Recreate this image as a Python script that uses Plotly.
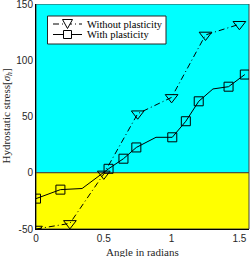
import plotly.graph_objects as go

# ---- data ----
angle_without = [0, 0.25, 0.5, 0.75, 1.0, 1.25, 1.5]
stress_without = [-50, -45, -1, 52.5, 67, 122.5, 132]

angle_with = [0, 0.18, 0.34, 0.535, 0.645, 0.74, 0.885, 1.005, 1.105, 1.2, 1.305, 1.42, 1.54]
stress_with = [-23, -15, -14, 3.5, 12.5, 22.5, 31.5, 31.5, 45.8, 63.5, 74.5, 76.5, 87.3]
# points of the "with plasticity" curve that carry a marker
marked_with = [True, True, False, True, True, True, False, True, True, True, False, True, True]

y_ticks = [-50, 0, 50, 100, 150]
y_ticklabels = ["-50", "0", "50", "100", "150"]
x_ticks = [0, 0.5, 1, 1.5]
x_ticklabels = ["0", "0.5", "1", "1.5"]

legend_names = ["Without plasticity", "With plasticity"]

SERIF = "Liberation Serif"
SANS = "Liberation Sans"

# plot-area geometry in pixels (for converting legend layout to paper coords)
W, H = 251, 257
ML, MR, MT, MB = 36, 2, 4, 28
PW, PH = W - ML - MR, H - MT - MB


def px(xp):
    return (xp - ML) / PW


def py(yp):
    return (H - MB - yp) / PH


fig = go.Figure()

dash_dot = "6px,3px,1px,3px"

# Without plasticity
fig.add_trace(go.Scatter(
    x=angle_without, y=stress_without, mode="lines+markers",
    name=legend_names[0], showlegend=False,
    line=dict(color="black", width=1, dash=dash_dot),
    marker=dict(symbol="triangle-down-open", size=11, color="black",
                line=dict(color="black", width=1)),
))

# With plasticity: line through all points
fig.add_trace(go.Scatter(
    x=angle_with, y=stress_with, mode="lines", name=legend_names[1],
    line=dict(color="black", width=1), showlegend=False, hoverinfo="skip",
))
# markers only on marked points
mx = [a for a, m in zip(angle_with, marked_with) if m]
my = [s for s, m in zip(stress_with, marked_with) if m]
fig.add_trace(go.Scatter(
    x=mx, y=my, mode="markers", showlegend=False, name=legend_names[1],
    marker=dict(symbol="square-open", size=9, color="black",
                line=dict(color="black", width=1)),
))

# background bands
fig.add_shape(type="rect", xref="x domain", yref="y", x0=0, x1=1, y0=0, y1=150,
              fillcolor="#00FFFF", line=dict(color="#404040", width=1), layer="below")
fig.add_shape(type="rect", xref="x domain", yref="y", x0=0, x1=1, y0=-50, y1=0,
              fillcolor="#FFFF00", line=dict(color="#404040", width=1), layer="below")

# ---- compact legend (MATLAB style) ----
fig.add_shape(type="rect", xref="paper", yref="paper",
              x0=px(47.5), x1=px(166), y0=py(44), y1=py(16),
              fillcolor="white", line=dict(color="#262626", width=1))
rows = [24, 34.5]
for i, (yy, name) in enumerate(zip(rows, legend_names)):
    fig.add_shape(type="line", xref="paper", yref="paper",
                  x0=px(53), x1=px(82), y0=py(yy), y1=py(yy),
                  line=dict(color="black", width=1,
                            dash=dash_dot if i == 0 else "solid"))
    cx = 67.5
    if i == 0:
        path = (f"M{px(cx-5)},{py(yy-4.5)} L{px(cx+5)},{py(yy-4.5)} "
                f"L{px(cx)},{py(yy+4.5)} Z")
    else:
        path = (f"M{px(cx-4)},{py(yy-4)} L{px(cx+4)},{py(yy-4)} "
                f"L{px(cx+4)},{py(yy+4)} L{px(cx-4)},{py(yy+4)} Z")
    fig.add_shape(type="path", xref="paper", yref="paper", path=path,
                  fillcolor="white", line=dict(color="black", width=1))
    fig.add_annotation(text=name, xref="paper", yref="paper",
                       x=px(85), y=py(yy), xanchor="left", yanchor="middle",
                       showarrow=False,
                       font=dict(family=SERIF, size=10.5, color="black"))

# axis titles as annotations
fig.add_annotation(text="Angle in radians", xref="paper", yref="paper",
                   x=0.5, y=py(251.5), xanchor="center", yanchor="middle",
                   showarrow=False, font=dict(family=SERIF, size=11, color="#262626"))
fig.add_annotation(text="Hydrostatic stress[<i>σ</i><sub><i>h</i></sub>]",
                   xref="paper", yref="paper", x=px(6), y=0.5,
                   xanchor="center", yanchor="middle", textangle=-90,
                   showarrow=False, font=dict(family=SERIF, size=11, color="#262626"))

fig.update_layout(
    width=W, height=H,
    margin=dict(l=ML, r=MR, t=MT, b=MB),
    paper_bgcolor="white", plot_bgcolor="white",
    showlegend=False,
    xaxis=dict(range=[0, 1.5708], tickvals=x_ticks, ticktext=x_ticklabels,
               showgrid=False, zeroline=False, showline=True, linecolor="black",
               linewidth=1, ticks="", tickfont=dict(family=SANS, size=10, color="#262626"),
               ticklabeloverflow="allow", automargin=False),
    yaxis=dict(range=[-50, 150], tickvals=y_ticks, ticktext=y_ticklabels,
               showgrid=False, zeroline=False, showline=True, linecolor="black",
               linewidth=1, ticks="", tickfont=dict(family=SANS, size=10, color="#262626"),
               ticklabeloverflow="allow", automargin=False),
)

fig.write_html("out.html", config={"displayModeBar": False},
               post_script="document.body.style.margin='0';document.body.style.overflow='hidden';")
